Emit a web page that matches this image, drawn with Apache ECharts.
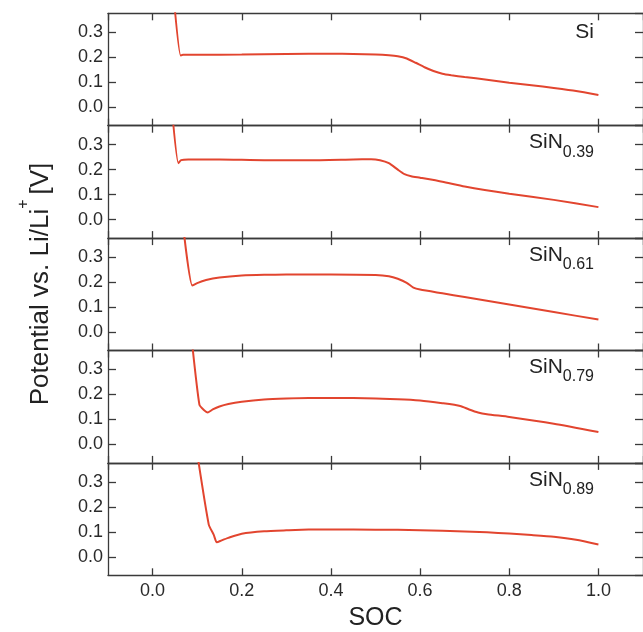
<!DOCTYPE html>
<html>
<head>
<meta charset="utf-8">
<script src="https://cdn.jsdelivr.net/npm/echarts@6/dist/echarts.min.js"></script>
<style>
  html, body { margin: 0; padding: 0; background: #fff; }
  #chart { width: 643px; height: 632px; }
</style>
</head>
<body>
<div id="chart"></div>
<script>
// SOC / potential pairs, one array per sample
const siData = [
  [0.047, 0.45], [0.063, 0.207], [0.068, 0.21], [0.1, 0.21], [0.2, 0.211], [0.3, 0.213],
  [0.4, 0.214], [0.45, 0.213], [0.5, 0.211], [0.53, 0.208], [0.55, 0.204], [0.57, 0.195],
  [0.59, 0.178], [0.61, 0.16], [0.63, 0.145], [0.65, 0.134], [0.67, 0.128], [0.7, 0.121],
  [0.75, 0.11], [0.8, 0.098], [0.85, 0.088], [0.9, 0.077], [0.95, 0.065], [1.0, 0.049]
];
const sin039Data = [
  [0.043, 0.45], [0.058, 0.226], [0.064, 0.238], [0.08, 0.241], [0.15, 0.241], [0.25, 0.238],
  [0.35, 0.238], [0.45, 0.241], [0.49, 0.242], [0.51, 0.238], [0.53, 0.226], [0.55, 0.2],
  [0.565, 0.182], [0.58, 0.174], [0.6, 0.168], [0.65, 0.152], [0.7, 0.133], [0.8, 0.104],
  [0.9, 0.079], [1.0, 0.05]
];
const sin061Data = [
  [0.067, 0.45], [0.089, 0.186], [0.1, 0.196], [0.12, 0.208], [0.15, 0.218], [0.2, 0.226],
  [0.25, 0.229], [0.3, 0.23], [0.4, 0.23], [0.5, 0.228], [0.53, 0.223], [0.55, 0.213],
  [0.57, 0.197], [0.585, 0.178], [0.6, 0.17], [0.65, 0.155], [0.7, 0.14], [0.8, 0.11],
  [0.9, 0.08], [1.0, 0.05]
];
const sin079Data = [
  [0.086, 0.45], [0.105, 0.159], [0.115, 0.138], [0.124, 0.128], [0.135, 0.14], [0.15, 0.152],
  [0.17, 0.162], [0.2, 0.171], [0.25, 0.18], [0.3, 0.184], [0.35, 0.186], [0.45, 0.186],
  [0.55, 0.181], [0.6, 0.176], [0.65, 0.165], [0.69, 0.154], [0.71, 0.14], [0.73, 0.128],
  [0.75, 0.121], [0.8, 0.11], [0.9, 0.083], [1.0, 0.05]
];
const sin089Data = [
  [0.097, 0.45], [0.126, 0.129], [0.137, 0.089], [0.144, 0.058], [0.155, 0.066], [0.17, 0.076],
  [0.2, 0.092], [0.25, 0.102], [0.3, 0.106], [0.35, 0.109], [0.45, 0.109], [0.55, 0.108],
  [0.65, 0.104], [0.75, 0.098], [0.8, 0.093], [0.85, 0.087], [0.9, 0.08], [0.95, 0.068],
  [1.0, 0.049]
];

const panelData = [siData, sin039Data, sin061Data, sin079Data, sin089Data];
const panelNames = ['Si', 'SiN', 'SiN', 'SiN', 'SiN'];
const panelSubs = ['', '0.39', '0.61', '0.79', '0.89'];

const FONT = '"Liberation Sans", Arial, sans-serif';
const AXIS_COLOR = '#3a3a3a';
const LINE_COLOR = '#e2452f';

const left = 108, width = 541, top0 = 13.3, panelH = 112.4;

const chart = echarts.init(document.getElementById('chart'));

const grids = [], xAxes = [], yAxes = [], series = [], graphics = [];

panelData.forEach((data, i) => {
  const top = top0 + i * panelH;
  const last = i === panelData.length - 1;
  grids.push({ left: left, top: top, width: width, height: panelH, containLabel: false });

  const xBase = {
    type: 'value', gridIndex: i, min: -0.1, max: 1.1,
    axisLine: { show: true, onZero: false, lineStyle: { color: AXIS_COLOR, width: 1.3 } },
    axisTick: { show: true, inside: true, length: 7, lineStyle: { color: AXIS_COLOR, width: 1.3 } },
    splitLine: { show: false }
  };
  xAxes.push(Object.assign({}, xBase, {
    position: 'bottom',
    axisLabel: {
      show: last, margin: 7, fontSize: 18, fontFamily: FONT, color: '#2a2a2a',
      showMinLabel: false, showMaxLabel: false,
      formatter: v => v.toFixed(1)
    },
    name: last ? 'SOC' : '',
    nameLocation: 'middle', nameGap: 30,
    nameTextStyle: { fontSize: 25, fontFamily: FONT, color: '#222' }
  }));
  xAxes.push(Object.assign({}, xBase, { position: 'top', axisLabel: { show: false } }));

  const yBase = {
    type: 'value', gridIndex: i, min: -0.074, max: 0.376,
    axisLine: { show: true, onZero: false, lineStyle: { color: AXIS_COLOR, width: 1.3 } },
    axisTick: { show: true, inside: true, length: 8, lineStyle: { color: AXIS_COLOR, width: 1.3 } },
    splitLine: { show: false }
  };
  yAxes.push(Object.assign({}, yBase, {
    position: 'left',
    axisLabel: {
      margin: 5, fontSize: 18, fontFamily: FONT, color: '#2a2a2a',
      showMinLabel: false, showMaxLabel: false,
      formatter: v => v.toFixed(1)
    }
  }));
  yAxes.push(Object.assign({}, yBase, { position: 'right', axisLabel: { show: false } }));

  series.push({
    type: 'line', xAxisIndex: 2 * i, yAxisIndex: 2 * i, data: data,
    showSymbol: false, symbol: 'none', clip: true,
    smooth: 0.2,
    lineStyle: { color: LINE_COLOR, width: 2 }
  });

  // sample label in the top right corner of each panel
  graphics.push({
    type: 'text', x: 594, y: top + (i === 0 ? 22 : 20.5),
    style: {
      text: panelSubs[i] ? '{m|' + panelNames[i] + '}{s|' + panelSubs[i] + '}' : '{m|' + panelNames[i] + '}',
      align: 'right', verticalAlign: 'middle',
      rich: {
        m: { fontSize: 21, fontFamily: FONT, fill: '#222', lineHeight: 28, verticalAlign: 'top' },
        s: { fontSize: 16, fontFamily: FONT, fill: '#222', lineHeight: 10, verticalAlign: 'bottom' }
      }
    }
  });
});

// y axis title with superscript
graphics.push({
  type: 'text', x: 35, y: 284, rotation: Math.PI / 2,
  style: {
    text: '{m|Potential vs. Li/Li}{s|+}{m|[V]}',
    align: 'center', verticalAlign: 'middle',
    rich: {
      m: { fontSize: 26, fontFamily: FONT, fill: '#222', lineHeight: 38, verticalAlign: 'bottom' },
      s: { fontSize: 16, fontFamily: FONT, fill: '#222', lineHeight: 10, verticalAlign: 'top', padding: [0, 5, 0, 0] }
    }
  }
});

chart.setOption({
  animation: false,
  backgroundColor: '#fff',
  grid: grids,
  xAxis: xAxes,
  yAxis: yAxes,
  series: series,
  graphic: graphics
});
</script>
</body>
</html>
